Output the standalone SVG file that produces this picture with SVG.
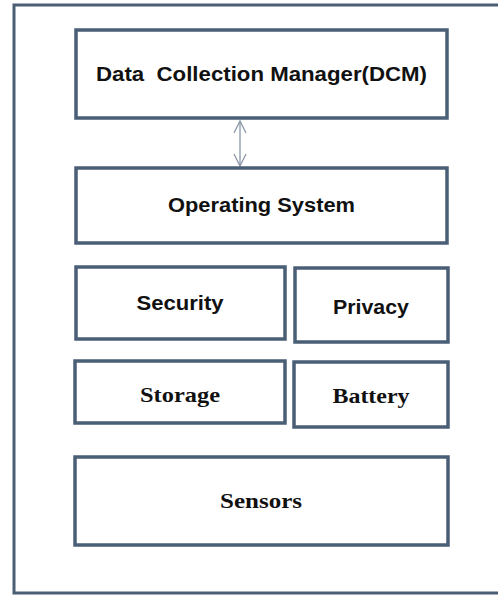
<svg xmlns="http://www.w3.org/2000/svg" width="498" height="595" viewBox="0 0 498 595">
<style>
.box{fill:#ffffff;stroke:#4a5e75;stroke-width:3.5}
.frame{fill:#ffffff;stroke:#4a5e75;stroke-width:3}
.sans{font-family:"Liberation Sans",Arial,sans-serif;font-weight:bold;fill:#111111;text-anchor:middle}
.serif{font-family:"Liberation Serif","Times New Roman",serif;font-weight:bold;fill:#111111;text-anchor:middle}
.conn{stroke:#8a97a6;stroke-width:1.3;fill:none}
</style>
<defs>
<marker id="open" viewBox="0 0 14 14" refX="13" refY="7" markerWidth="14" markerHeight="14" markerUnits="userSpaceOnUse" orient="auto-start-reverse">
<path d="M1,1 L13,7 L1,13" fill="none" stroke="#8a97a6" stroke-width="1.3"/>
</marker>
</defs>
<rect width="498" height="595" fill="#ffffff"/>
<rect class="frame" x="14" y="5" width="500" height="588"/>
<g id="connectors">
<line class="conn" x1="240" y1="121" x2="240" y2="166" marker-start="url(#open)" marker-end="url(#open)"/>
</g>
<g id="dcm">
<rect class="box" x="76" y="30" width="371" height="88"/>
<text class="sans" x="261.5" y="81" font-size="20" textLength="331" lengthAdjust="spacingAndGlyphs" xml:space="preserve">Data  Collection Manager(DCM)</text>
</g>
<g id="os">
<rect class="box" x="76" y="168" width="371" height="75"/>
<text class="sans" x="261.5" y="212" font-size="20" textLength="187" lengthAdjust="spacingAndGlyphs">Operating System</text>
</g>
<g id="security">
<rect class="box" x="76" y="267" width="209" height="72"/>
<text class="sans" x="180" y="310" font-size="20" textLength="87" lengthAdjust="spacingAndGlyphs">Security</text>
</g>
<g id="privacy">
<rect class="box" x="295" y="268" width="153" height="74"/>
<text class="sans" x="371" y="314" font-size="20" textLength="76" lengthAdjust="spacingAndGlyphs">Privacy</text>
</g>
<g id="storage">
<rect class="box" x="75" y="361" width="210" height="62"/>
<text class="serif" x="180" y="402" font-size="22" textLength="80" lengthAdjust="spacingAndGlyphs">Storage</text>
</g>
<g id="battery">
<rect class="box" x="294" y="362" width="154" height="65"/>
<text class="serif" x="371" y="403" font-size="22" textLength="77" lengthAdjust="spacingAndGlyphs">Battery</text>
</g>
<g id="sensors">
<rect class="box" x="75" y="457" width="373" height="88"/>
<text class="serif" x="261" y="508" font-size="22" textLength="82" lengthAdjust="spacingAndGlyphs">Sensors</text>
</g>
</svg>
